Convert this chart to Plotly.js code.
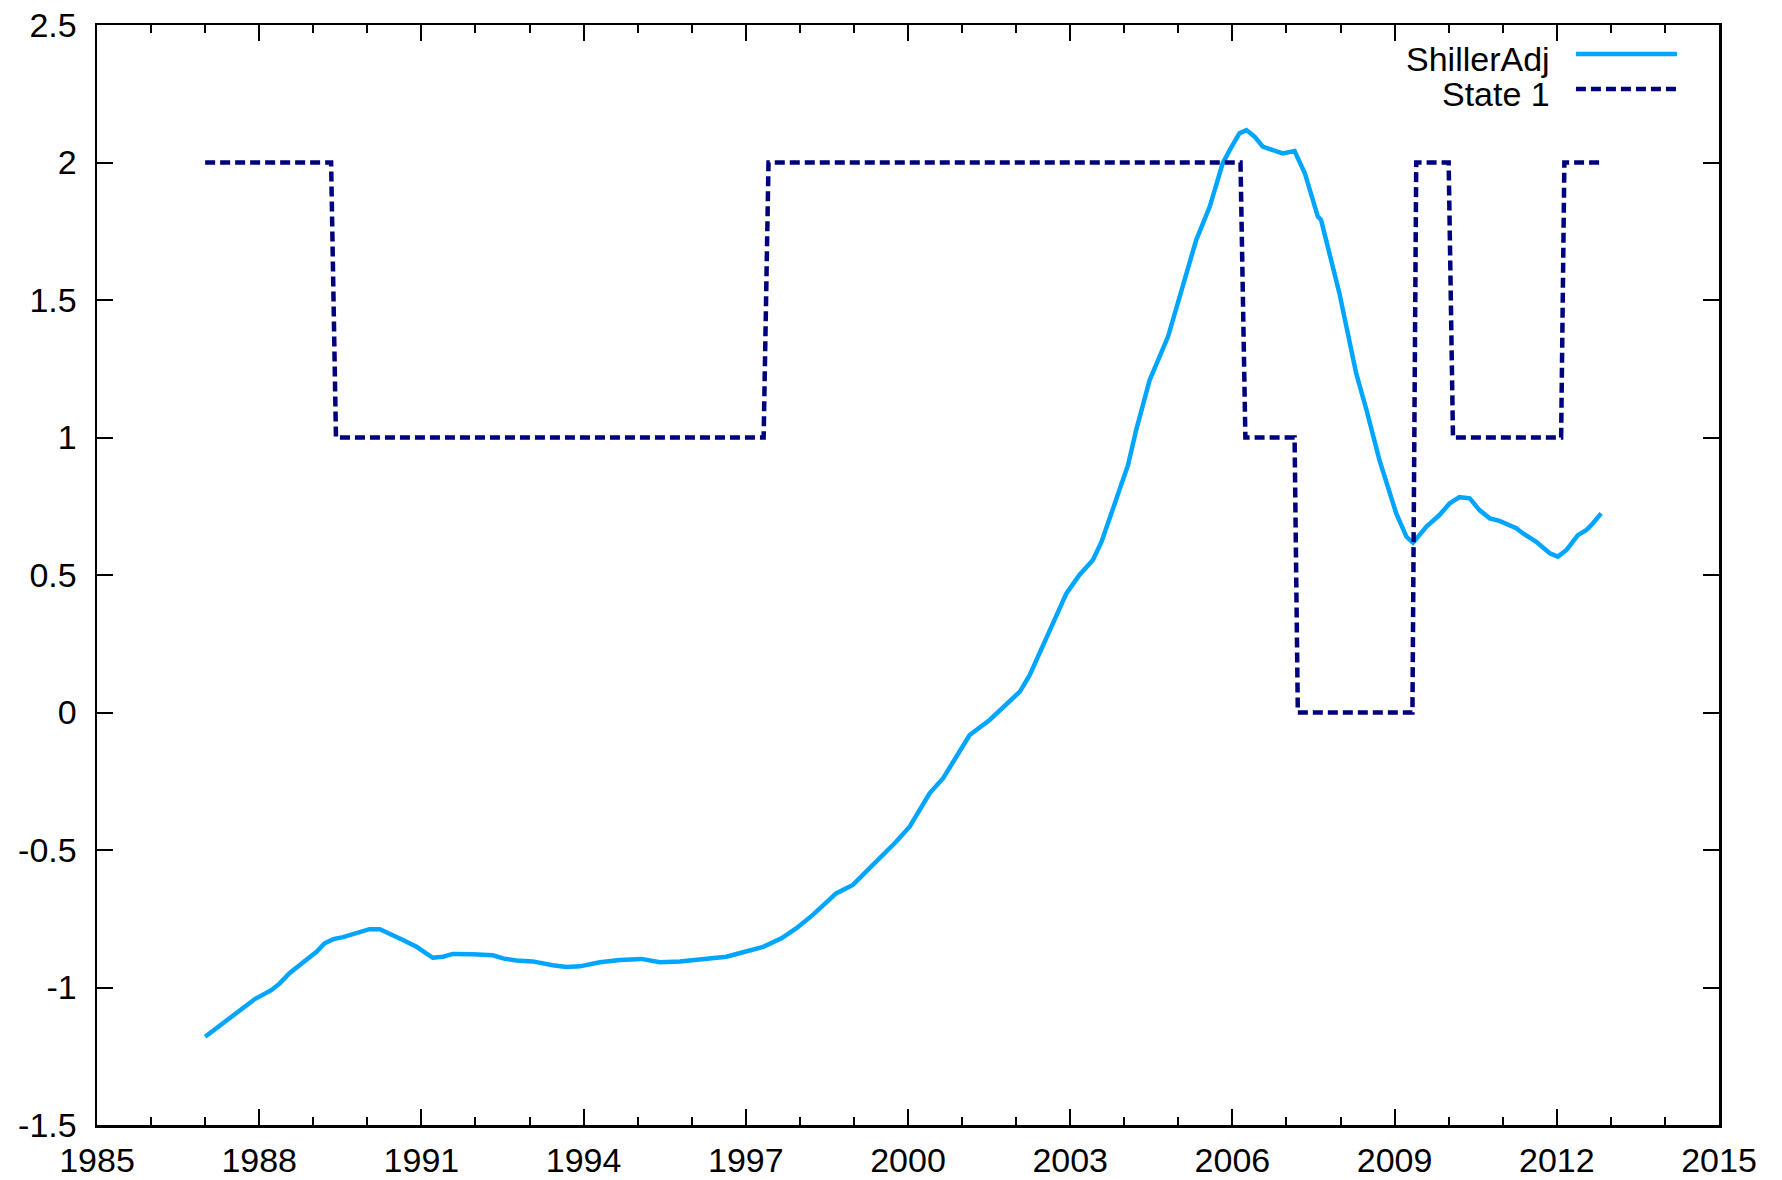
<!DOCTYPE html>
<html>
<head>
<meta charset="utf-8">
<script src="https://cdn.plot.ly/plotly-3.0.1.min.js"></script>
<style>
html,body{margin:0;padding:0;background:#fff;}
#chart{width:1782px;height:1180px;}
</style>
</head>
<body>
<div id="chart"></div>
<script>
// ShillerAdj series (decimal year, value)
var shillerYears = [1987.0,1987.33,1987.64,1987.92,1988.23,1988.38,1988.56,1988.78,1989.06,1989.21,1989.37,1989.55,1989.80,1990.04,1990.23,1990.41,1990.66,1990.91,1991.09,1991.21,1991.40,1991.58,1991.95,1992.32,1992.51,1992.76,1993.06,1993.25,1993.43,1993.68,1993.93,1994.30,1994.67,1995.07,1995.41,1995.78,1996.09,1996.33,1996.64,1996.95,1997.32,1997.66,1997.93,1998.24,1998.67,1998.98,1999.23,1999.48,1999.78,2000.03,2000.22,2000.40,2000.65,2000.83,2001.14,2001.51,2001.82,2002.07,2002.25,2002.56,2002.71,2002.93,2003.17,2003.42,2003.58,2003.73,2003.91,2004.07,2004.22,2004.47,2004.81,2004.99,2005.15,2005.33,2005.58,2005.82,2005.95,2006.13,2006.26,2006.41,2006.56,2006.75,2006.93,2007.15,2007.34,2007.58,2007.64,2007.98,2008.29,2008.48,2008.72,2009.03,2009.22,2009.34,2009.59,2009.83,2010.02,2010.20,2010.39,2010.57,2010.76,2010.94,2011.25,2011.37,2011.62,2011.87,2012.02,2012.18,2012.39,2012.55,2012.67,2012.82];
var shillerValues = [-1.179,-1.130,-1.085,-1.042,-1.009,-0.985,-0.948,-0.912,-0.870,-0.839,-0.824,-0.817,-0.803,-0.788,-0.788,-0.803,-0.827,-0.852,-0.878,-0.892,-0.888,-0.878,-0.879,-0.883,-0.894,-0.902,-0.905,-0.914,-0.919,-0.925,-0.923,-0.908,-0.900,-0.896,-0.908,-0.905,-0.900,-0.893,-0.888,-0.872,-0.852,-0.821,-0.785,-0.736,-0.658,-0.627,-0.579,-0.530,-0.470,-0.415,-0.355,-0.294,-0.239,-0.179,-0.082,-0.027,0.033,0.076,0.136,0.276,0.342,0.433,0.500,0.555,0.621,0.706,0.809,0.900,1.027,1.209,1.367,1.488,1.609,1.718,1.839,1.997,2.045,2.106,2.118,2.094,2.058,2.043,2.033,2.042,1.961,1.803,1.791,1.524,1.233,1.100,0.918,0.724,0.639,0.617,0.676,0.718,0.761,0.783,0.779,0.736,0.706,0.697,0.670,0.652,0.621,0.579,0.567,0.591,0.645,0.664,0.688,0.724];

// State 1 regime series (breakpoints: decimal year, state)
var stateYears  = [1987.0,1989.33,1989.42,1997.33,1997.42,2006.15,2006.24,2007.15,2007.21,2009.33,2009.40,2010.00,2010.08,2012.08,2012.14,2012.79];
var stateValues = [2,2,1,1,2,2,1,1,0,0,2,2,1,1,2,2];

var xTickVals = [1985,1988,1991,1994,1997,2000,2003,2006,2009,2012,2015];
var yTickVals = [-1.5,-1,-0.5,0,0.5,1,1.5,2,2.5];
var yTickText = ['-1.5','-1','-0.5','0','0.5','1','1.5','2','2.5'];
var seriesNames = ['ShillerAdj','State 1'];

var blue = '#00a5ff';
var navy = '#00007f';
var FONT = 'Liberation Sans, Arial, Helvetica, sans-serif';

var traces = [
  {x: shillerYears, y: shillerValues, type: 'scatter', mode: 'lines', name: seriesNames[0],
   line: {color: blue, width: 4.5}, showlegend: false, hoverinfo: 'x+y'},
  {x: stateYears, y: stateValues, type: 'scatter', mode: 'lines', name: seriesNames[1],
   line: {color: navy, width: 4.5, dash: '10px,5px'}, showlegend: false, hoverinfo: 'x+y'}
];

var layout = {
  width: 1782, height: 1180,
  margin: {l: 97, r: 63, t: 25, b: 55},
  paper_bgcolor: '#fff', plot_bgcolor: '#fff',
  font: {family: FONT, size: 34, color: '#000'},
  xaxis: {
    range: [1985, 2015], tickmode: 'array', tickvals: xTickVals,
    ticktext: xTickVals.map(String),
    ticks: 'inside', ticklen: 16, tickwidth: 2, tickcolor: '#000',
    minor: {dtick: 1, tick0: 1985, ticks: 'inside', ticklen: 8, tickwidth: 2, tickcolor: '#000', showgrid: false},
    showline: true, linecolor: '#000', linewidth: 2.5, mirror: 'allticks',
    showgrid: false, zeroline: false, ticklabelstandoff: 4,
    tickfont: {family: FONT, size: 34, color: '#000'}
  },
  yaxis: {
    range: [-1.5, 2.5], tickmode: 'array', tickvals: yTickVals, ticktext: yTickText,
    ticks: 'inside', ticklen: 16, tickwidth: 2, tickcolor: '#000',
    showline: true, linecolor: '#000', linewidth: 2.5, mirror: 'allticks',
    showgrid: false, zeroline: false, ticklabelstandoff: 11,
    tickfont: {family: FONT, size: 34, color: '#000'}
  },
  annotations: [
    {xref: 'paper', yref: 'paper', x: 0.897, y: 0.969, xanchor: 'right', yanchor: 'middle',
     text: seriesNames[0], showarrow: false, font: {family: FONT, size: 34, color: '#000'}},
    {xref: 'paper', yref: 'paper', x: 0.897, y: 0.937, xanchor: 'right', yanchor: 'middle',
     text: seriesNames[1], showarrow: false, font: {family: FONT, size: 34, color: '#000'}}
  ],
  shapes: [
    {type: 'line', xref: 'paper', yref: 'paper', x0: 0.9118, x1: 0.9741, y0: 0.9736, y1: 0.9736,
     line: {color: blue, width: 4.5}},
    {type: 'line', xref: 'paper', yref: 'paper', x0: 0.9118, x1: 0.9741, y0: 0.9418, y1: 0.9418,
     line: {color: navy, width: 4.5, dash: '10px,5px'}}
  ]
};

Plotly.newPlot('chart', traces, layout, {displayModeBar: false, staticPlot: true});
</script>
</body>
</html>
